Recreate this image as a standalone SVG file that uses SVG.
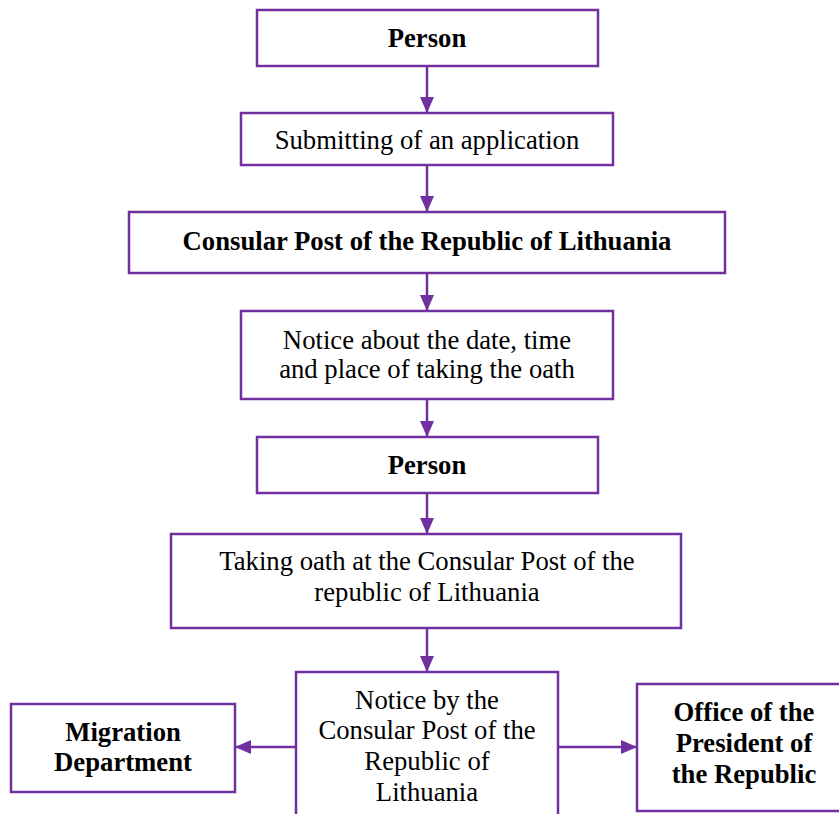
<svg xmlns="http://www.w3.org/2000/svg" width="839" height="814" viewBox="0 0 839 814">
<style>
.box{fill:#fff;stroke:#7030A0;stroke-width:2.5}
.t{font-family:"Liberation Serif","Times New Roman",serif;font-size:26.7px;fill:#000;text-anchor:middle}
.b{font-weight:bold}
.c{stroke:#7030A0;stroke-width:2.5;fill:none}
</style>
<defs>
<marker id="ah" viewBox="0 0 16 14" refX="16" refY="7" markerWidth="16" markerHeight="14" markerUnits="userSpaceOnUse" orient="auto">
<path d="M0,0 L16,7 L0,14 z" fill="#7030A0"/>
</marker>
</defs>
<rect width="839" height="814" fill="#fff"/>
<g id="connectors">
<line class="c" x1="427" y1="66" x2="427" y2="113" marker-end="url(#ah)"/>
<line class="c" x1="427" y1="165" x2="427" y2="212" marker-end="url(#ah)"/>
<line class="c" x1="427" y1="273" x2="427" y2="311" marker-end="url(#ah)"/>
<line class="c" x1="427" y1="399" x2="427" y2="437" marker-end="url(#ah)"/>
<line class="c" x1="427" y1="493" x2="427" y2="534" marker-end="url(#ah)"/>
<line class="c" x1="427" y1="628" x2="427" y2="672" marker-end="url(#ah)"/>
<line class="c" x1="296" y1="747" x2="235" y2="747" marker-end="url(#ah)"/>
<line class="c" x1="558" y1="747" x2="637" y2="747" marker-end="url(#ah)"/>
</g>
<g id="person1"><rect class="box" x="257" y="10" width="341" height="56"/><text class="t b" x="427" y="47">Person</text></g>
<g id="submit"><rect class="box" x="241" y="113" width="372" height="52"/><text class="t" x="427" y="149">Submitting of an application</text></g>
<g id="consular"><rect class="box" x="129" y="212" width="596" height="61"/><text class="t b" x="427" y="250">Consular Post of the Republic of Lithuania</text></g>
<g id="notice"><rect class="box" x="241" y="311" width="372" height="88"/><text class="t" x="427" y="349">Notice about the date, time</text><text class="t" x="427" y="378">and place of taking the oath</text></g>
<g id="person2"><rect class="box" x="257" y="437" width="341" height="56"/><text class="t b" x="427" y="474">Person</text></g>
<g id="oath"><rect class="box" x="171" y="534" width="510" height="94"/><text class="t" x="427" y="570">Taking oath at the Consular Post of the</text><text class="t" x="427" y="601">republic of Lithuania</text></g>
<g id="noticeby"><rect class="box" x="296" y="672" width="262" height="160"/><text class="t" x="427" y="709">Notice by the</text><text class="t" x="427" y="739">Consular Post of the</text><text class="t" x="427" y="770">Republic of</text><text class="t" x="427" y="801">Lithuania</text></g>
<g id="migration"><rect class="box" x="11" y="704" width="224" height="88"/><text class="t b" x="123" y="741">Migration</text><text class="t b" x="123" y="771">Department</text></g>
<g id="office"><rect class="box" x="637" y="684" width="220" height="127"/><text class="t b" x="744" y="721">Office of the</text><text class="t b" x="744" y="752">President of</text><text class="t b" x="744" y="783">the Republic</text></g>
</svg>
